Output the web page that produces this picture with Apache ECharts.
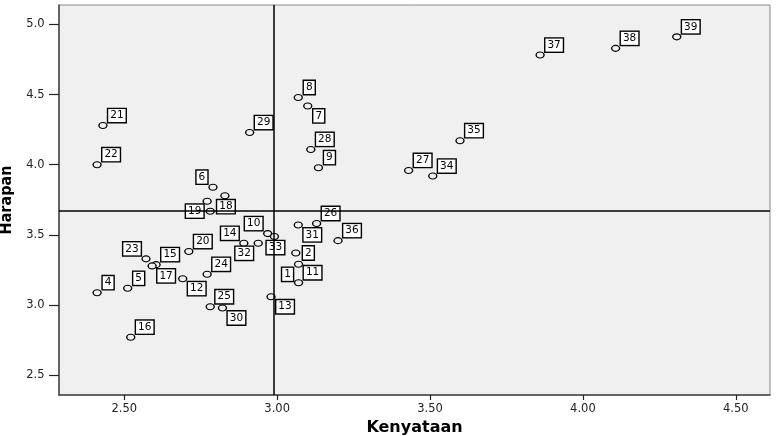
<!DOCTYPE html>
<html>
<head>
<meta charset="utf-8">
<script src="https://cdn.jsdelivr.net/npm/echarts@6.0.0/dist/echarts.min.js"></script>
<style>
  html, body { margin: 0; padding: 0; background: #ffffff; }
  #chart { width: 776px; height: 436px; }
</style>
</head>
<body>
<div id="chart"></div>
<script>
// Case numbers (1..39)
const ids = ['1','2','3','4','5','6','7','8','9','10','11','12','13','14','15','16','17','18','19','20',
             '21','22','23','24','25','26','27','28','29','30','31','32','33','34','35','36','37','38','39'];
// Kenyataan (x)
const kenyataan = [3.070, 3.061, 2.771, 2.411, 2.511, 2.790, 3.100, 3.069, 3.135, 2.969,
                   3.070, 2.691, 2.980, 2.891, 2.604, 2.521, 2.591, 2.829, 2.781, 2.711,
                   2.430, 2.411, 2.571, 2.771, 2.781, 3.129, 3.430, 3.110, 2.910, 2.821,
                   3.069, 2.938, 2.991, 3.509, 3.598, 3.199, 3.860, 4.107, 4.307];
// Harapan (y)
const harapan = [3.290, 3.371, 3.740, 3.088, 3.119, 3.840, 4.419, 4.479, 3.979, 3.509,
                 3.159, 3.188, 3.059, 3.440, 3.288, 2.771, 3.279, 3.779, 3.669, 3.381,
                 4.279, 4.000, 3.329, 3.219, 2.988, 3.581, 3.959, 4.109, 4.229, 2.979,
                 3.571, 3.440, 3.488, 3.919, 4.171, 3.459, 4.781, 4.829, 4.911];
// Where each case label sits relative to its marker (ur/ul/lr/ll/l/r/b, '' = no label)
const labelSide = ['ll','r','','ur','ur','ul','lr','ur','ur','ul',
                   'ur','lr','lr','ul','ur','ur','lr','b','l','ur',
                   'ur','ur','ul','ur','ur','ur','ur','ur','ur','lr',
                   'lr','ll','b','ur','ur','ur','ur','ur','ur'];
// Axis ticks
const xTicks = [2.5, 3.0, 3.5, 4.0, 4.5];
const yTicks = [2.5, 3.0, 3.5, 4.0, 4.5, 5.0];

const meanX = kenyataan.reduce((a, b) => a + b, 0) / kenyataan.length;
const meanY = harapan.reduce((a, b) => a + b, 0) / harapan.length;

function labelOffset(side, text) {
  const w = text.length > 1 ? 18 : 12;
  const dxd = 5 + w / 2, dxs = 6.5 + w / 2;
  switch (side) {
    case 'ur': return [dxd, -10];
    case 'ul': return [-dxd, -10];
    case 'lr': return [dxd, 10];
    case 'll': return [-dxd, 10];
    case 'r': return [dxs, 0];
    case 'l': return [-dxs, 0];
    case 'b': return [1, 11];
    default: return [0, 0];
  }
}

const points = kenyataan.map((x, i) => ({
  value: [x, harapan[i]],
  name: ids[i],
  label: labelSide[i]
    ? { show: true, offset: labelOffset(labelSide[i], ids[i]) }
    : { show: false }
}));

const chart = echarts.init(document.getElementById('chart'), null, { renderer: 'canvas' });
chart.setOption({
  animation: false,
  backgroundColor: '#ffffff',
  grid: {
    left: 59, right: 6, top: 5, bottom: 41,
    containLabel: false,
    outerBoundsMode: 'none',
    show: true, backgroundColor: '#f0f0f0', borderColor: '#8a8a8a', borderWidth: 1
  },
  xAxis: {
    type: 'value',
    min: 2.2864, max: 4.612,
    name: 'Kenyataan',
    nameLocation: 'middle',
    nameGap: 25,
    nameTextStyle: { fontFamily: 'DejaVu Sans', fontWeight: 'bold', fontSize: 16, color: '#000' },
    axisLine: { show: true, onZero: false, lineStyle: { color: '#444', width: 1.5 } },
    axisTick: { show: true, customValues: xTicks, length: 5, lineStyle: { color: '#222', width: 1.2 } },
    axisLabel: {
      customValues: xTicks,
      formatter: v => Number(v).toFixed(2),
      fontFamily: 'DejaVu Sans', fontSize: 11.5, color: '#222', margin: 8
    },
    splitLine: { show: false }
  },
  yAxis: {
    type: 'value',
    min: 2.359, max: 5.138,
    name: 'Harapan',
    nameLocation: 'middle',
    nameGap: 40,
    nameTextStyle: { fontFamily: 'Liberation Sans Narrow, DejaVu Sans Condensed, sans-serif', fontWeight: 'bold', fontSize: 16, color: '#000' },
    axisLine: { show: true, onZero: false, lineStyle: { color: '#444', width: 1.5 } },
    axisTick: { show: true, customValues: yTicks, length: 10, lineStyle: { color: '#222', width: 1.2 } },
    axisLabel: {
      customValues: yTicks,
      formatter: v => Number(v).toFixed(1),
      fontFamily: 'DejaVu Sans', fontSize: 11.5, color: '#222', margin: 14.5
    },
    splitLine: { show: false }
  },
  series: [{
    type: 'scatter',
    data: points,
    symbol: 'circle',
    symbolSize: [8, 6],
    itemStyle: { color: '#f0f0f0', borderColor: '#000', borderWidth: 1.2, opacity: 1 },
    label: {
      show: true,
      position: 'inside',
      formatter: '{b}',
      fontFamily: 'DejaVu Sans',
      fontSize: 10.5,
      lineHeight: 10,
      color: '#000',
      backgroundColor: '#ffffff',
      borderColor: '#000',
      borderWidth: 1.4,
      padding: [2, 2, 1, 2]
    },
    emphasis: { disabled: true },
    silent: true,
    markLine: {
      silent: true,
      animation: false,
      symbol: ['none', 'none'],
      label: { show: false },
      lineStyle: { color: '#000', width: 1.5, type: 'solid' },
      emphasis: { disabled: true },
      data: [{ xAxis: meanX }, { yAxis: meanY }]
    }
  }]
});
</script>
</body>
</html>
